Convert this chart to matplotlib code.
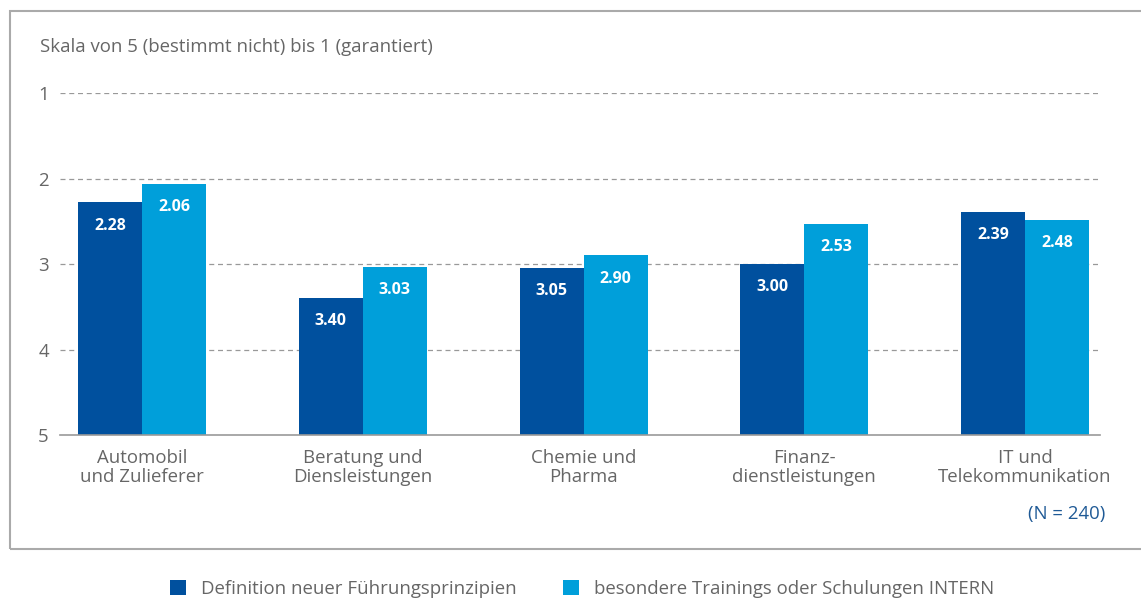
import matplotlib
matplotlib.use("Agg")
import matplotlib.pyplot as plt
from matplotlib.patches import Rectangle
import numpy as np

categories = ["Automobil\nund Zulieferer", "Beratung und\nDiensleistungen", "Chemie und\nPharma",
              "Finanz-\ndienstleistungen", "IT und\nTelekommunikation"]
series_names = ["Definition neuer Führungsprinzipien", "besondere Trainings oder Schulungen INTERN"]
definition = [2.28, 3.40, 3.05, 3.00, 2.39]
trainings = [2.06, 3.03, 2.90, 2.53, 2.48]
yticks = [1, 2, 3, 4, 5]

DARK = "#00509E"
LIGHT = "#009FDA"
GRAY = "#666666"
FS = 13.4
plt.rcParams['font.family'] = ['Open Sans', 'DejaVu Sans']

W, H = 1141, 599
fig = plt.figure(figsize=(W / 100, H / 100), dpi=100)
ax = fig.add_axes([60 / W, 1 - 435 / H, (1100 - 60) / W, (435 - 93) / H])

x = np.arange(len(categories))
bw = 0.29
b1 = ax.bar(x - bw / 2, [v - 5 for v in definition], bottom=5, width=bw, color=DARK, zorder=3)
b2 = ax.bar(x + bw / 2, [v - 5 for v in trainings], bottom=5, width=bw, color=LIGHT, zorder=3)

for xs, vals in ((x - bw / 2, definition), (x + bw / 2, trainings)):
    for xi, v in zip(xs, vals):
        ax.text(xi, v + 0.27, f"{v:.2f}", ha="center", va="center", color="white",
                fontsize=11.5, fontweight="bold", zorder=4)

ax.set_ylim(5, 1)
ax.set_xlim(-0.372, 4.34)
ax.set_yticks(yticks)
ax.set_yticklabels([str(t) for t in yticks], color=GRAY, fontsize=FS)
ax.tick_params(axis="y", length=0, pad=8)
ax.set_xticks(x)
ax.set_xticklabels(categories, color=GRAY, fontsize=FS, linespacing=1.05)
ax.tick_params(axis="x", length=0, pad=10)
for t in yticks[:-1]:
    ax.axhline(t, color="#999999", lw=0.9, ls=(0, (4, 3)), zorder=1)
for s in ["top", "right", "left"]:
    ax.spines[s].set_visible(False)
ax.spines["bottom"].set_color("#999999")
ax.spines["bottom"].set_linewidth(1.2)
ax.spines["bottom"].set_zorder(5)

# frame box
fig.patches.append(Rectangle((10 / W, 1 - 549 / H), (1145 - 10) / W, (549 - 11) / H,
                             transform=fig.transFigure, fill=False, edgecolor="#AAAAAA", lw=1.5))

fig.text(40 / W, 1 - 47 / H, "Skala von 5 (bestimmt nicht) bis 1 (garantiert)", color=GRAY,
         fontsize=FS, va="center", ha="left")
fig.text(1105 / W, 1 - 514 / H, "(N = 240)", color="#1F5A96", fontsize=FS, va="center", ha="right")

fig.legend([b1, b2], series_names, loc="center", bbox_to_anchor=(582 / W, 1 - 589 / H),
           ncol=2, frameon=False, fontsize=FS, labelcolor=GRAY, handlelength=0.85, handleheight=0.85,
           columnspacing=2.5, handletextpad=0.8)

fig.savefig("out.png", dpi=100)
